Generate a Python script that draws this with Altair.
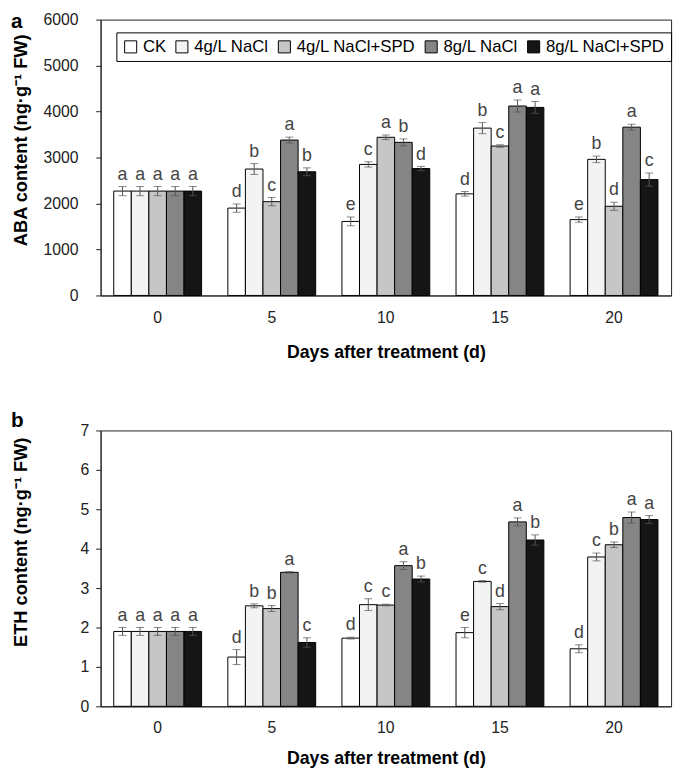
import altair as alt
import pandas as pd

days = ["0", "5", "10", "15", "20"]
treatments = ["CK", "4g/L NaCl", "4g/L NaCl+SPD", "8g/L NaCl", "8g/L NaCl+SPD"]
fills = ["#ffffff", "#f3f3f3", "#c6c6c6", "#858585", "#151515"]

# ABA content (ng/g FW), rows = days, columns = treatments
aba_values = [
    [2270, 2270, 2270, 2270, 2270],
    [1900, 2750, 2040, 3380, 2690],
    [1610, 2850, 3440, 3330, 2760],
    [2210, 3640, 3250, 4120, 4090],
    [1650, 2960, 1940, 3660, 2520],
]
aba_errors = [
    [100, 100, 100, 100, 100],
    [90, 118, 90, 64, 85],
    [96, 57, 50, 75, 46],
    [50, 121, 28, 131, 128],
    [57, 71, 89, 64, 142],
]
aba_letters = [
    ["a", "a", "a", "a", "a"],
    ["d", "b", "c", "a", "b"],
    ["e", "c", "a", "b", "d"],
    ["d", "b", "c", "a", "a"],
    ["e", "b", "d", "a", "c"],
]

# ETH content (ng/g FW)
eth_values = [
    [1.90, 1.90, 1.90, 1.90, 1.90],
    [1.25, 2.55, 2.48, 3.40, 1.62],
    [1.73, 2.58, 2.57, 3.57, 3.23],
    [1.87, 3.17, 2.53, 4.68, 4.22],
    [1.46, 3.79, 4.10, 4.79, 4.74],
]
eth_errors = [
    [0.10, 0.10, 0.10, 0.10, 0.10],
    [0.19, 0.05, 0.075, 0.02, 0.12],
    [0.02, 0.15, 0.02, 0.10, 0.075],
    [0.13, 0.02, 0.08, 0.10, 0.13],
    [0.10, 0.10, 0.07, 0.14, 0.10],
]
eth_letters = [
    ["a", "a", "a", "a", "a"],
    ["d", "b", "b", "a", "c"],
    ["d", "c", "c", "a", "b"],
    ["e", "c", "d", "a", "b"],
    ["d", "c", "b", "a", "a"],
]


def make_df(values, errors, letters):
    rows = []
    for i, d in enumerate(days):
        for j, t in enumerate(treatments):
            v = values[i][j]
            e = errors[i][j]
            rows.append({"day": d, "treatment": t, "value": v,
                         "lo": v - e, "hi": v + e, "letter": letters[i][j]})
    return pd.DataFrame(rows)


FONT = "Liberation Sans"


def panel(df, ymax, ytitle, tag, label_pad, title_y, xtitle_pad, legend_y,
          tag_y, tag_baseline):
    x = alt.X("day:O", sort=days,
              scale=alt.Scale(paddingInner=0.23, paddingOuter=0.115),
              axis=alt.Axis(title="Days after treatment (d)", labelAngle=0,
                            ticks=False, tickSize=0, labelPadding=14,
                            labelFontSize=16, labelColor="#222",
                            titleFontSize=18, titleFontWeight="bold",
                            titlePadding=xtitle_pad, domainColor="#222"))
    xo = alt.XOffset("treatment:N", sort=treatments,
                     scale=alt.Scale(paddingInner=0, paddingOuter=0))
    yscale = alt.Scale(domain=[0, ymax], nice=False)
    step = 1000 if ymax > 100 else 1
    yvals = list(range(0, ymax + step, step))
    yaxis = alt.Axis(title=ytitle, values=yvals, format="d",
                     labelOverlap=False, grid=False,
                     tickSize=5, labelPadding=label_pad,
                     labelFontSize=16, labelColor="#222",
                     titleFontSize=18.5, titleFontWeight="bold",
                     titleX=-71, titleY=title_y,
                     domainColor="#222", tickColor="#222")

    def Y(field):
        return alt.Y(field, scale=yscale, axis=yaxis)

    base = alt.Chart(df)
    bars = base.mark_bar(stroke="black", strokeWidth=1).encode(
        x=x, xOffset=xo, y=Y("value:Q"),
        fill=alt.Fill("treatment:N", sort=treatments,
                      scale=alt.Scale(domain=treatments, range=fills),
                      legend=alt.Legend(orient="none", legendX=16, legendY=legend_y,
                                        direction="horizontal", columns=5,
                                        title=None, symbolType="square",
                                        symbolSize=150, symbolStrokeColor="black",
                                        symbolStrokeWidth=1, labelFontSize=17,
                                        labelColor="black", labelOffset=4,
                                        columnPadding=7, padding=6,
                                        strokeColor="black")),
    )
    rule = base.mark_rule(color="#555", strokeWidth=1).encode(
        x=x, xOffset=xo, y=Y("lo:Q"), y2="hi:Q")
    cap_lo = base.mark_tick(color="#555", size=8, thickness=1).encode(
        x=x, xOffset=xo, y=Y("lo:Q"))
    cap_hi = base.mark_tick(color="#555", size=8, thickness=1).encode(
        x=x, xOffset=xo, y=Y("hi:Q"))
    letters = base.mark_text(baseline="alphabetic", dy=-7, fontSize=18,
                             color="#444").encode(
        x=x, xOffset=xo, y=Y("hi:Q"), text="letter:N")
    tag_text = alt.Chart(pd.DataFrame({"t": [tag]})).mark_text(
        align="left", baseline=tag_baseline, fontSize=21, fontWeight="bold",
        color="black").encode(text="t:N", x=alt.value(-91), y=alt.value(tag_y))
    return alt.layer(bars, rule, cap_lo, cap_hi, letters, tag_text).properties(
        width=579, height=280)


df_a = make_df(aba_values, aba_errors, aba_letters)
df_b = make_df(eth_values, eth_errors, eth_letters)

pa = panel(df_a, 6000, "ABA content (ng·g⁻¹ FW)", "a", 18, 122, 19, 13, -8, "top")
pb = panel(df_b, 7, "ETH content (ng·g⁻¹ FW)", "b", 7, 113, 14, 10, -3, "alphabetic")

chart = alt.vconcat(pa, pb, spacing=48).properties(
    padding={"top": -3, "left": 2, "right": 5, "bottom": 5}
).configure(font=FONT).configure_view(stroke="#222", strokeWidth=1)

chart.save("out.html", embed_options={"renderer": "svg", "actions": False})
